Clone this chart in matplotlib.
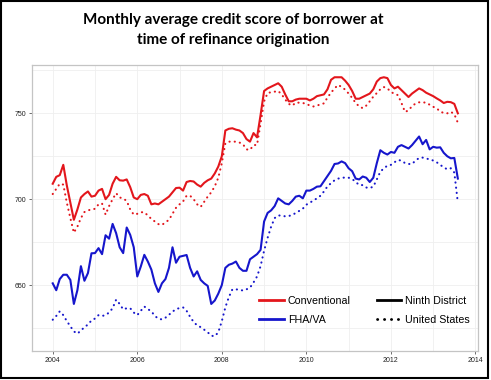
"""
Monthly average credit score of refinance borrowers:
Ninth District vs United States, conventional vs FHA/VA loans.
"""

import numpy as np
import matplotlib.pyplot as plt
from matplotlib.lines import Line2D
from matplotlib.patches import Rectangle

# Monthly values, Jan 2004 .. Aug 2013 (116 months)
ninth_conv = [
    709, 713, 714, 720, 708, 698, 688, 694, 701, 703, 704.5, 701.5,          # 2004
    702, 705, 706, 700, 702.5, 709, 713, 711, 710.8, 711.5, 707, 701,        # 2005
    700, 702.5, 703, 702, 697, 697.5, 697, 698.5, 700, 701.5, 704, 706.5,    # 2006
    706.7, 705, 710, 710.6, 710.3, 708.5, 707.3, 709.5, 711, 712, 715, 719,  # 2007
    725, 740, 741, 741.3, 740.5, 740, 738.5, 735, 733.5, 738.5, 736, 749,    # 2008
    763, 764.5, 765.5, 766.5, 767.5, 765.5, 761, 757, 757, 758, 758.5, 758.5,  # 2009
    758.5, 757.5, 758.5, 760, 760.5, 761, 764, 769.5, 771, 771, 771, 769,    # 2010
    766.5, 763, 758.5, 758.5, 759.5, 760.5, 761.5, 764, 768.5, 770.5, 771, 770.5,  # 2011
    766.5, 764.5, 765.5, 763.5, 761.5, 759.5, 761.5, 763, 764.5, 763.5, 762, 761,  # 2012
    760, 758.7, 757.5, 756, 756.7, 756.5, 755.5, 750,                        # 2013
]

us_conv = [
    703, 706, 709, 708.5, 698, 689, 680.5, 684, 689, 692.5, 693.5, 694,      # 2004
    694.4, 697, 697.5, 691, 696, 700, 703.5, 701, 700.4, 699, 694, 691,      # 2005
    691.5, 692.4, 692.4, 690.5, 688.5, 687, 685.5, 685, 686.5, 688, 691.5, 695,  # 2006
    697, 698.7, 702, 702, 700, 697, 695.5, 698.5, 701.5, 704, 707.5, 712.5,  # 2007
    721, 732.5, 733.5, 733.5, 733.5, 733, 732, 729, 728.7, 731.5, 731.6, 744,  # 2008
    757, 761.8, 762.3, 762.6, 763, 761, 758, 755.5, 754.5, 756.2, 756.2, 756,  # 2009
    755.5, 754.5, 754, 754.5, 755.2, 755.8, 759.2, 762, 764.5, 766.5, 765.4, 763.8,  # 2010
    761.5, 759, 756, 754, 753, 754.5, 757, 759.7, 761.8, 764, 765.3, 764.5,  # 2011
    762.5, 761.3, 760.6, 756, 750.8, 751.7, 754.2, 755.7, 756.4, 756.4, 756.2, 755,  # 2012
    753.8, 752.9, 751, 750.2, 750, 750.9, 749.5, 744.5,                      # 2013
]

ninth_fha = [
    651, 647, 653.5, 656, 656, 653, 639, 647, 661, 652.5, 657, 668.5,        # 2004
    668.6, 671.5, 668, 679, 677, 685.6, 680.2, 672, 668.6, 683.5, 679.2, 672,  # 2005
    655, 660.8, 667.6, 663.7, 659, 651, 646, 651, 653.5, 660, 672, 663,      # 2006
    666.5, 667, 667.5, 660, 655, 658, 653, 651, 649.5, 639, 641, 645,        # 2007
    650, 660, 661.8, 662.5, 663.7, 660, 658.3, 658.3, 665, 666.5, 668, 670.5,  # 2008
    687, 692, 693.5, 696, 700.5, 699, 697.5, 697, 699, 701.5, 702, 700.5,    # 2009
    705, 705, 706, 707.3, 707.5, 710.5, 713.5, 716.5, 720.5, 720.8, 722, 721,  # 2010
    718, 716.3, 712, 711.5, 713.2, 712.5, 710, 712.5, 721, 728.5, 727, 726,  # 2011
    727.5, 727, 730.5, 731.5, 730.5, 729.5, 731.5, 734, 736.5, 732, 734.5, 729,  # 2012
    730.5, 730, 730.2, 727, 725, 723.8, 724, 712,                            # 2013
]

us_fha = [
    629.8, 632, 634.7, 632.5, 629, 626, 623, 621.7, 623.5, 625.5, 627, 629.4,  # 2004
    630.5, 632.5, 632, 632.5, 634, 636.5, 641.5, 639, 635.8, 636.5, 636.5, 634,  # 2005
    632.5, 635, 637.5, 636, 634.7, 632, 630.4, 630, 631, 632.7, 634.5, 636,  # 2006
    636.6, 637, 635, 631.5, 628.5, 626.5, 625.5, 624, 622.5, 620.5, 620.2, 622.5,  # 2007
    629, 637, 643, 647.5, 647.5, 647.3, 646.8, 647.5, 648.5, 651.5, 655, 661,  # 2008
    670, 677.5, 684, 689, 690.5, 690.5, 690, 690.2, 690.8, 692, 693.2, 694.5,  # 2009
    696.8, 698, 699.2, 700.5, 702, 704.5, 707.5, 709.3, 711, 712, 712.3, 712.7,  # 2010
    712.5, 711.8, 710, 708.3, 708.2, 706.8, 706.5, 707.3, 711.5, 716, 718, 719.5,  # 2011
    720, 721.5, 722.8, 722.5, 721, 720.5, 720.5, 722.5, 724, 724.2, 723.6, 723.3,  # 2012
    722.5, 721.5, 720, 718.5, 717.4, 718, 715.5, 698,                        # 2013
]

x_ticks = [2004, 2006, 2008, 2010, 2012, 2014]
y_ticks = [650, 700, 750]

RED = "#e3161c"
BLUE = "#1616cc"
DOTS = (0, (0.1, 2.4))

dates = 2004 + np.arange(len(ninth_conv)) / 12.0

fig = plt.figure(figsize=(4.91, 3.80), dpi=100)
ax = fig.add_axes([0.0652, 0.0763, 0.9083, 0.7534])

lw = 1.5
ax.plot(dates, ninth_conv, color=RED, lw=lw)
ax.plot(dates, us_conv, color=RED, lw=lw, ls=DOTS, dash_capstyle="round")
ax.plot(dates, ninth_fha, color=BLUE, lw=lw)
ax.plot(dates, us_fha, color=BLUE, lw=lw, ls=DOTS, dash_capstyle="round")

ax.set_xlim(2003.51, 2014.06)
ax.set_ylim(611.6, 778.3)
ax.set_xticks(x_ticks)
ax.set_xticks(np.arange(2005, 2014, 2), minor=True)
ax.set_yticks(y_ticks)
ax.set_yticks([625, 675, 725, 775], minor=True)
ax.set_xticklabels([str(t) for t in x_ticks])
ax.set_yticklabels([str(t) for t in y_ticks])

ax.grid(True, which="both", color="#efefef", lw=0.6)
ax.set_axisbelow(True)
for s in ax.spines.values():
    s.set_color("#c4c4c4")
    s.set_linewidth(0.9)
ax.tick_params(which="major", length=2.5, width=0.6, color="#555555",
               labelsize=5, labelcolor="#222222", pad=1.5)
ax.tick_params(which="minor", length=0)
for lab in ax.get_xticklabels() + ax.get_yticklabels():
    lab.set_family("Liberation Sans")

handles = [
    Line2D([], [], color=RED, lw=2),
    Line2D([], [], color=BLUE, lw=2),
    Line2D([], [], color="black", lw=2),
    Line2D([], [], color="black", lw=2, ls=(0, (0.1, 2.4)), dash_capstyle="round"),
]
labels = ["Conventional", "FHA/VA", "Ninth District", "United States"]
fig.legend(handles, labels, ncol=2, frameon=False, loc="upper left",
           bbox_to_anchor=(0.5275, 0.221), bbox_transform=fig.transFigure,
           borderpad=0, borderaxespad=0, handlelength=2.3, handletextpad=0.4,
           columnspacing=2.4, labelspacing=0.85,
           prop={"family": "Liberation Sans", "size": 7.7})

fig.text(0.475, 0.965, "Monthly average credit score of borrower at\ntime of refinance origination",
         ha="center", va="top", fontsize=11, fontweight="bold", family="Lato",
         linespacing=1.55)

# black frame around the whole picture
fig.patches.append(Rectangle((0.002, 0.006), 0.992, 0.992, transform=fig.transFigure,
                             fill=False, edgecolor="black", lw=1.5))

fig.savefig("out.png", dpi=100)
